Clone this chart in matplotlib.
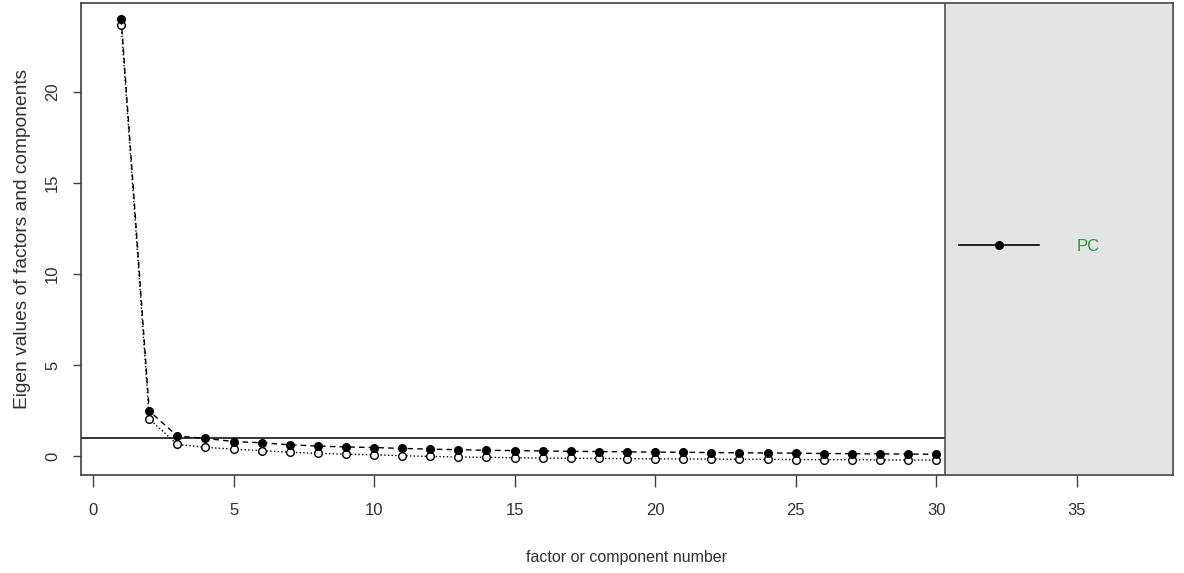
import matplotlib.pyplot as plt
from matplotlib.lines import Line2D

# scree plot values
factor_num = list(range(1, 31))
pc_values = [24.0, 2.47, 1.10, 0.97, 0.80, 0.73, 0.62, 0.55, 0.50, 0.47,
             0.42, 0.38, 0.35, 0.32, 0.30, 0.28, 0.26, 0.25, 0.23, 0.22,
             0.21, 0.19, 0.18, 0.17, 0.16, 0.14, 0.13, 0.12, 0.11, 0.10]
fa_values = [23.7, 2.03, 0.64, 0.48, 0.38, 0.30, 0.21, 0.15, 0.10, 0.07,
             0.02, -0.02, -0.05, -0.07, -0.09, -0.11, -0.12, -0.13, -0.14, -0.15,
             -0.16, -0.17, -0.18, -0.18, -0.19, -0.20, -0.20, -0.21, -0.22, -0.22]
x_ticks = [0, 5, 10, 15, 20, 25, 30, 35]
y_ticks = [0, 5, 10, 15, 20]
cutoff = 1.0
legend_label = "PC"

plt.rcParams['font.family'] = ['Liberation Sans', 'DejaVu Sans']

fig = plt.figure(figsize=(11.84, 5.73), dpi=100)
ax = fig.add_axes([81 / 1184, 1 - 475 / 573, (1173 - 81) / 1184, (475 - 3) / 573])

ax.set_xlim(-0.43, 38.43)
ax.set_ylim(-1.04, 24.89)

# FA (open circles, dotted) and PC (filled circles, dashed)
ax.plot(factor_num, fa_values, linestyle=':', color='black', lw=1,
        marker='o', markersize=5.5, markerfacecolor='white',
        markeredgecolor='black', markeredgewidth=1, zorder=2)
ax.plot(factor_num, pc_values, linestyle='--', dashes=(4, 3), color='black', lw=1,
        marker='o', markersize=5.5, markerfacecolor='black',
        markeredgecolor='black', zorder=2)

ax.axhline(cutoff, color='black', lw=1.1, zorder=1)

# grey side panel holding the legend
panel_left = 30.32
ax.axvspan(panel_left, 38.43, facecolor='#e4e4e4', edgecolor='#505050', lw=1.2, zorder=3)

handle = Line2D([], [], color='black', lw=1.2, marker='o', markersize=5.5)
leg = ax.legend([handle], [legend_label], loc='center left',
                bbox_to_anchor=(0.79, 0.485), frameon=False, numpoints=1,
                handlelength=4.8, handletextpad=2.3, fontsize=12,
                labelcolor='#1f9e3c')
leg.set_zorder(5)

ax.set_xticks(x_ticks)
ax.set_yticks(y_ticks)
ax.tick_params(axis='both', direction='out', width=1, color='#404040',
               labelsize=12, labelcolor='#303030')
ax.tick_params(axis='x', length=8.5, pad=12)
ax.tick_params(axis='y', length=6, pad=9)
for lab in ax.get_yticklabels():
    lab.set_rotation(90)
    lab.set_va('center')

for sp in ax.spines.values():
    sp.set_color('#404040')
    sp.set_linewidth(1.2)

ax.set_xlabel('factor or component number', fontsize=11.5, color='#303030',
              family=['Liberation Sans Narrow', 'Liberation Sans', 'DejaVu Sans'],
              labelpad=23)
ax.set_ylabel('Eigen values of factors and components', fontsize=13.8,
              color='#303030', labelpad=10)

fig.savefig('out.png', dpi=100)
